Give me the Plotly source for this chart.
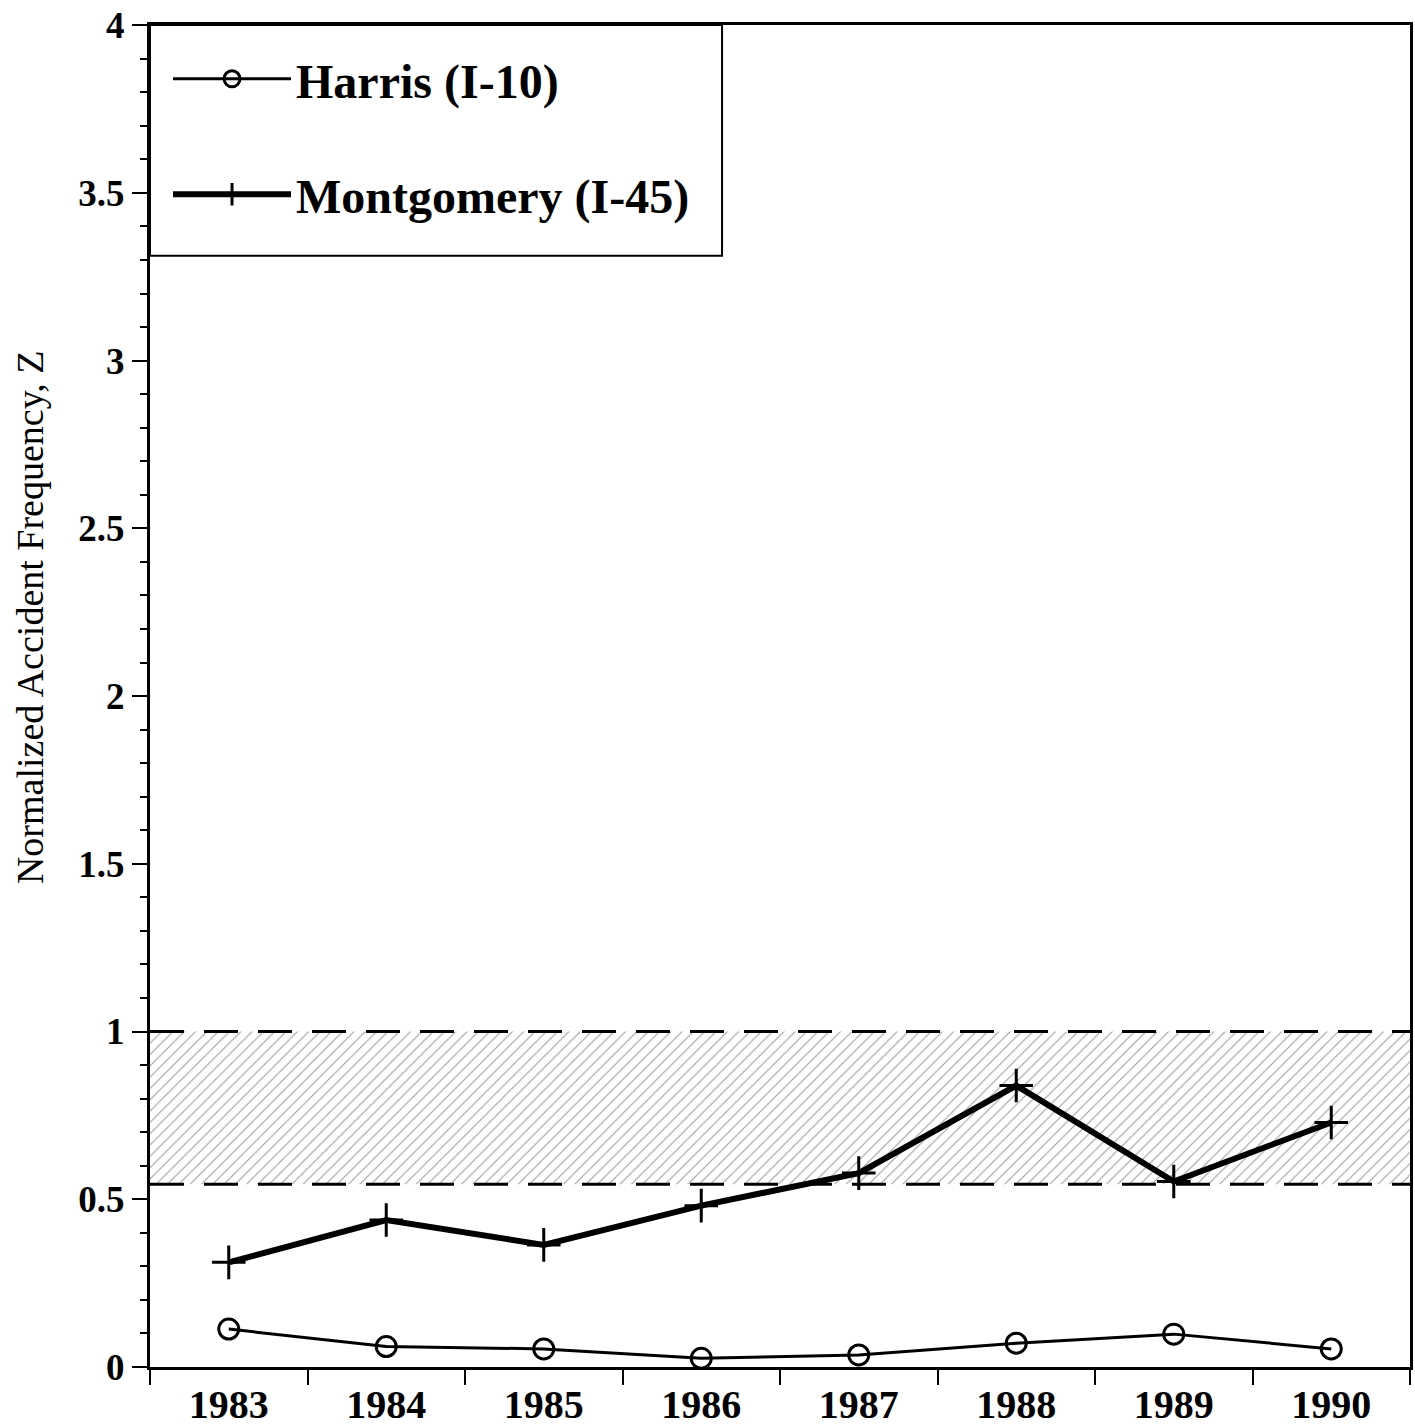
import plotly.graph_objects as go

years = [1983, 1984, 1985, 1986, 1987, 1988, 1989, 1990]
harris = [0.113, 0.061, 0.054, 0.026, 0.036, 0.071, 0.098, 0.054]
montgomery = [0.312, 0.438, 0.364, 0.481, 0.578, 0.839, 0.553, 0.729]
band_low = 0.545
band_high = 1.0
x_range = [1982.5, 1990.5]
boundaries = [1982.5 + i for i in range(9)]
y_ticks = [0, 0.5, 1, 1.5, 2, 2.5, 3, 3.5, 4]
y_title = "Normalized Accident Frequency, Z"

FONT = "Liberation Serif"

fig = go.Figure()

# shaded band
fig.add_trace(go.Scatter(
    x=[x_range[0], x_range[1], x_range[1], x_range[0], x_range[0]],
    y=[band_low, band_low, band_high, band_high, band_low],
    mode="lines", line=dict(width=0), fill="toself",
    fillcolor="white",
    fillpattern=dict(shape="/", fgcolor="#333333", bgcolor="white", size=8, solidity=0.13),
    showlegend=False, hoverinfo="skip"))

for yv in (band_low, band_high):
    fig.add_trace(go.Scatter(
        x=x_range, y=[yv, yv], mode="lines",
        line=dict(color="black", width=3, dash="34px,20px"),
        showlegend=False, hoverinfo="skip"))

fig.add_trace(go.Scatter(
    x=years, y=harris, mode="lines+markers",
    name="Harris (I-10)",
    line=dict(color="black", width=3),
    marker=dict(symbol="circle-open", size=20, color="black", line=dict(width=3)),
    legendgroup="a"))

fig.add_trace(go.Scatter(
    x=years, y=montgomery, mode="lines+markers",
    name="Montgomery (I-45)",
    line=dict(color="black", width=6),
    marker=dict(symbol="cross-thin-open", size=24, color="black", line=dict(width=3)),
    legendgroup="b"))

fig.update_layout(
    width=1415, height=1426,
    margin=dict(l=150, r=5, t=25, b=59),
    paper_bgcolor="white", plot_bgcolor="white",
    font=dict(family=FONT, color="black"),
    showlegend=True,
    legend=dict(x=0.0143, y=0.988, xanchor="left", yanchor="top",
                borderwidth=0, bgcolor="rgba(0,0,0,0)",
                font=dict(family=FONT, size=48, color="black", weight="bold"),
                tracegroupgap=50, itemwidth=118),
    shapes=[dict(type="rect", xref="paper", yref="paper",
                 x0=0, x1=0.454, y0=0.828, y1=1,
                 line=dict(color="black", width=2), fillcolor="rgba(0,0,0,0)",
                 layer="above")],
    xaxis=dict(range=x_range, tickvals=years, ticktext=[str(y) for y in years],
               ticks="", showgrid=False, zeroline=False, ticklabeloverflow="allow",
               automargin=False,
               showline=True, linecolor="black", linewidth=3, mirror=True,
               tickfont=dict(family=FONT, size=40, weight="bold"),
               minor=dict(tickvals=boundaries, ticks="outside", ticklen=15,
                          tickwidth=2, tickcolor="black", showgrid=False)),
    yaxis=dict(range=[0, 4.0005], tickvals=y_ticks, ticktext=[f"{v:g}" for v in y_ticks],
               ticks="outside", ticklen=15, ticklabeloverflow="allow",
               automargin=False,
               tickwidth=2, tickcolor="black", showgrid=False, zeroline=False,
               showline=True, linecolor="black", linewidth=3, mirror=True,
               tickfont=dict(family=FONT, size=37, weight="bold"),
               minor=dict(dtick=0.1, tick0=0, ticks="outside", ticklen=7, tickwidth=2,
                          tickcolor="black", showgrid=False)),
    annotations=[dict(text=y_title, xref="paper", yref="paper", x=-0.095, y=0.559,
                      xanchor="center", yanchor="middle", textangle=-90,
                      showarrow=False, font=dict(family=FONT, size=38, color="black"))],
)

fig.write_html("out.html", config={"displayModeBar": False},
               post_script="document.body.style.margin='0';document.body.style.overflow='hidden';")
